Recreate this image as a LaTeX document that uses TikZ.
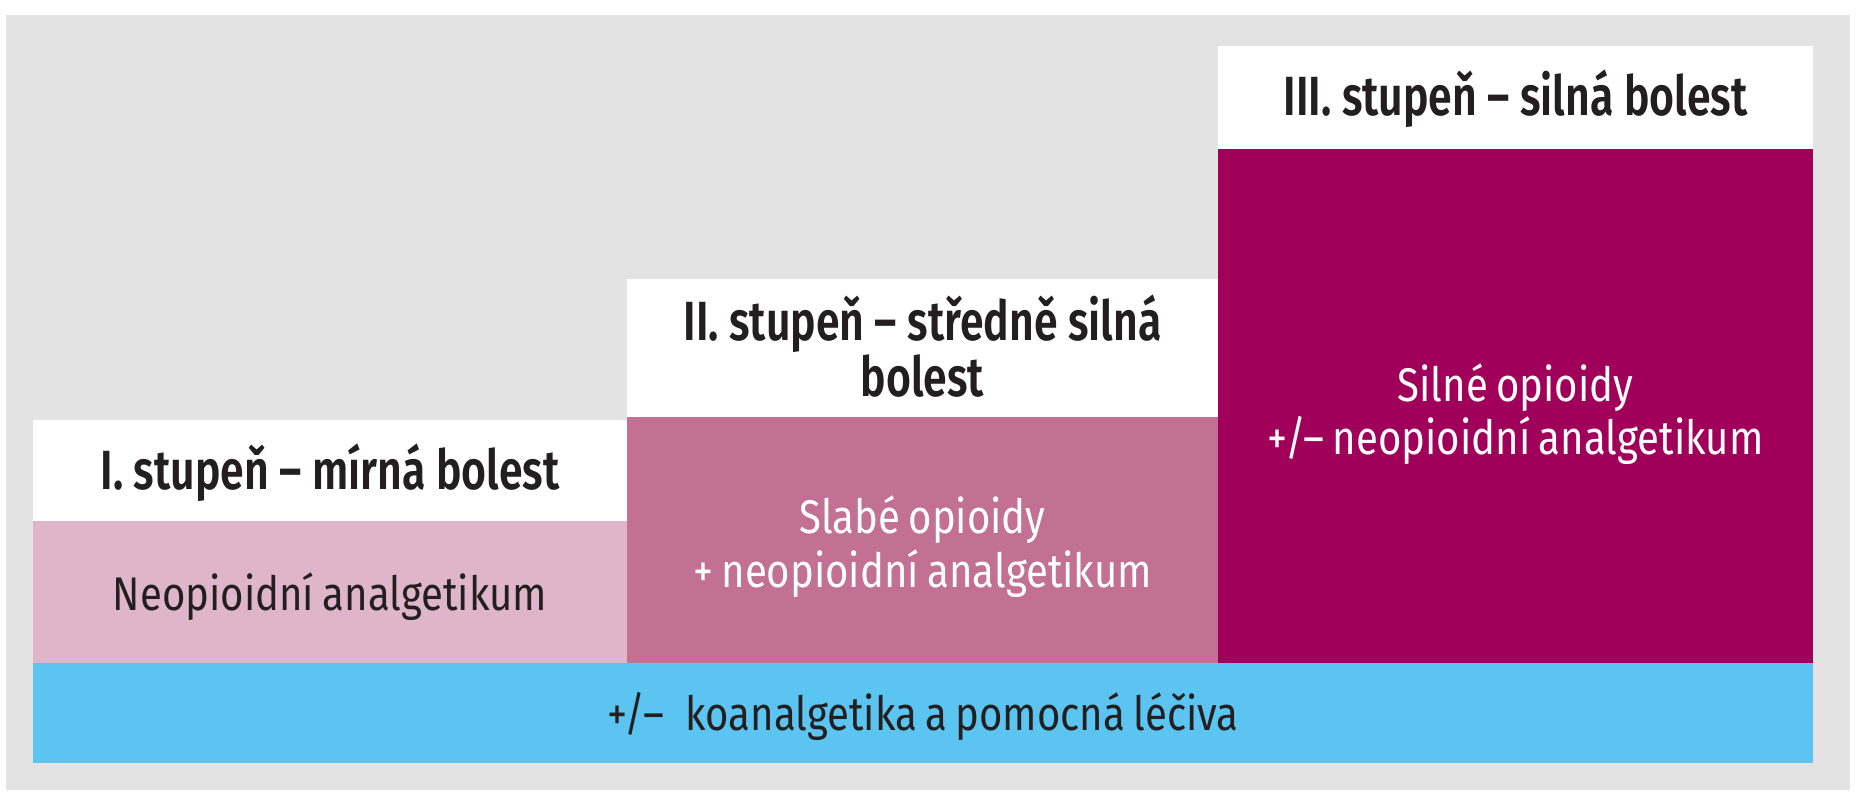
\documentclass[tikz,border=0pt]{standalone}
\usepackage{fontspec}
\setmainfont{Fira Sans}
\newfontfamily\headfont[FakeStretch=0.775,BoldFont={Fira Sans SemiBold}]{Fira Sans}
\newfontfamily\bodyfont[FakeStretch=0.85,WordSpace=0.8]{Fira Sans}
\definecolor{bggray}{HTML}{E3E3E3}
\definecolor{pinkA}{HTML}{DFB5C9}
\definecolor{pinkB}{HTML}{C27094}
\definecolor{plum}{HTML}{A0005A}
\definecolor{skyb}{HTML}{5BC4F1}
\definecolor{ink}{HTML}{231F20}
\tikzset{
  head/.style={anchor=base,inner sep=0pt,text=ink,font=\headfont\bfseries\fontsize{13.8}{16}\selectfont},
  bodytxt/.style={anchor=base,inner sep=0pt,font=\bodyfont\fontsize{11.8}{14}\selectfont},
}
\begin{document}
\begin{tikzpicture}[x=0.25pt,y=-0.25pt]
\useasboundingbox (0,0) rectangle (1856,800);
\fill[white] (0,0) rectangle (1856,800);
\fill[bggray] (6,15) rectangle (1850,790);
% level I
\fill[white] (33,420) rectangle (627,521);
\fill[pinkA] (33,521) rectangle (627,663);
% level II
\fill[white] (627,279) rectangle (1218,417);
\fill[pinkB] (627,417) rectangle (1218,663);
% level III
\fill[white] (1218,46) rectangle (1813,149);
\fill[plum] (1218,149) rectangle (1813,663);
% base band
\fill[skyb] (33,663) rectangle (1813,763);
% texts
\node[head] (h1) at (330,490) {I. stupeň – mírná bolest};
\node[bodytxt,text=ink] (b1) at (330,611) {Neopioidní analgetikum};
\node[head] (h2a) at (922.5,341) {II. stupeň – středně silná};
\node[head] (h2b) at (922.5,397) {bolest};
\node[bodytxt,text=white] (b2a) at (922.5,534) {Slabé opioidy};
\node[bodytxt,text=white] (b2b) at (922.5,588) {+ neopioidní analgetikum};
\node[head] (h3) at (1515.5,116) {III. stupeň – silná bolest};
\node[bodytxt,text=white] (b3a) at (1515.5,402) {Silné opioidy};
\node[bodytxt,text=white] (b3b) at (1515.5,455) {+/– neopioidní analgetikum};
\node[bodytxt,text=ink] (bb) at (923,731) {+/–\hspace{0.45em}koanalgetika a pomocná léčiva};
\end{tikzpicture}
\end{document}
